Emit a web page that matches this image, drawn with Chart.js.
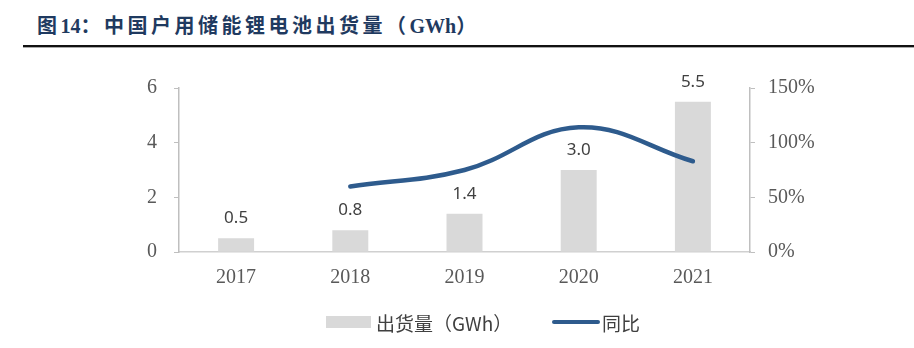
<!DOCTYPE html>
<html>
<head>
<meta charset="utf-8">
<script src="https://cdn.jsdelivr.net/npm/chart.js@4/dist/chart.umd.min.js"></script>
<style>
  html, body { margin: 0; padding: 0; background: #fff; }
  body { width: 914px; height: 348px; position: relative; overflow: hidden; }
  #title {
    position: absolute; left: 37px; top: 10px;
    font-family: "Liberation Serif", "Noto Sans CJK SC", serif;
    font-weight: bold; font-size: 20px;
    color: #1f3a60; white-space: nowrap;
  }
  #title .cn { font-family: "Noto Sans CJK SC", sans-serif; letter-spacing: 3.5px; }
  #rule {
    position: absolute; left: 23px; right: 0; top: 45px;
    height: 2px; background: #111; border-bottom: 1px solid #aaa;
  }
  #chart { position: absolute; left: 0; top: 0; }
  .legend {
    position: absolute; top: 310px; height: 24px;
    font-family: "Noto Sans CJK SC", sans-serif; font-size: 19px; color: #404040;
    display: flex; align-items: center; white-space: nowrap;
  }
  .sw-bar { width: 45px; height: 12px; background: #d9d9d9; margin-right: 5px; }
  .sw-line { width: 48px; height: 4px; border-radius: 2px; background: #2e5b8d; margin-right: 2px; }
</style>
</head>
<body>
<div id="title"><span class="cn">图</span>14<span class="cn">：中国户用储能锂电池出货量（</span>GWh<span class="cn">）</span></div>
<div id="rule"></div>
<canvas id="chart" width="914" height="348"></canvas>
<div class="legend" style="left:326px"><div class="sw-bar"></div>出货量（GWh）</div>
<div class="legend" style="left:552px"><div class="sw-line"></div>同比</div>
<script>
// Household energy-storage lithium battery shipments, China
const years = ['2017', '2018', '2019', '2020', '2021'];
const shipments = [0.5, 0.8, 1.4, 3.0, 5.5];          // GWh
const growth = [null, 60, 75, 114, 83];                // year-on-year, %
const leftTicks = [0, 2, 4, 6];
const rightTicks = [0, 50, 100, 150];

const axisGray = '#bfbfbf';
const tickFont = { family: '"Liberation Serif", "Times New Roman", serif', size: 20 };

const barLabels = {
  id: 'barLabels',
  afterDatasetsDraw(chart) {
    const meta = chart.getDatasetMeta(1);
    const ctx = chart.ctx;
    ctx.save();
    ctx.font = '17px "Noto Sans", "Open Sans", sans-serif';
    ctx.fillStyle = '#404040';
    ctx.textAlign = 'center';
    ctx.textBaseline = 'alphabetic';
    meta.data.forEach((bar, i) => {
      ctx.fillText(shipments[i].toFixed(1), bar.x, bar.y - 15);
    });
    ctx.restore();
  }
};

new Chart(document.getElementById('chart'), {
  data: {
    labels: years,
    datasets: [
      {
        type: 'line', label: '同比', data: growth, yAxisID: 'y1', order: 0,
        borderColor: '#2e5b8d', borderWidth: 4.5, tension: 0.4,
        pointRadius: 0, borderCapStyle: 'round', fill: false
      },
      {
        type: 'bar', label: '出货量（GWh）', data: shipments, yAxisID: 'y', order: 1,
        backgroundColor: '#d9d9d9', barPercentage: 0.315, categoryPercentage: 1
      }
    ]
  },
  options: {
    responsive: false, animation: false,
    layout: { padding: { top: 88, bottom: 56, left: 0, right: 0 } },
    plugins: { legend: { display: false }, tooltip: { enabled: false } },
    scales: {
      x: {
        grid: { display: false },
        border: { display: true, color: '#d0d0d0', width: 1.5 },
        ticks: { font: tickFont, color: '#595959', padding: 6 },
        afterFit(s) { s.height = 40; }
      },
      y: {
        position: 'left', min: 0, max: 6,
        afterBuildTicks(s) { s.ticks = leftTicks.map(v => ({ value: v })); },
        grid: { drawOnChartArea: false, drawTicks: true, tickLength: 5, color: axisGray },
        border: { display: true, color: axisGray, width: 1.5 },
        ticks: { font: tickFont, color: '#595959', padding: 17 },
        afterFit(s) { s.width = 179; }
      },
      y1: {
        position: 'right', min: 0, max: 150,
        afterBuildTicks(s) { s.ticks = rightTicks.map(v => ({ value: v })); },
        grid: { drawOnChartArea: false, drawTicks: true, tickLength: 5, color: axisGray },
        border: { display: true, color: axisGray, width: 1.5 },
        ticks: { font: tickFont, color: '#595959', padding: 13, callback: v => v + '%' },
        afterFit(s) { s.width = 164; }
      }
    }
  },
  plugins: [barLabels]
});
</script>
</body>
</html>
